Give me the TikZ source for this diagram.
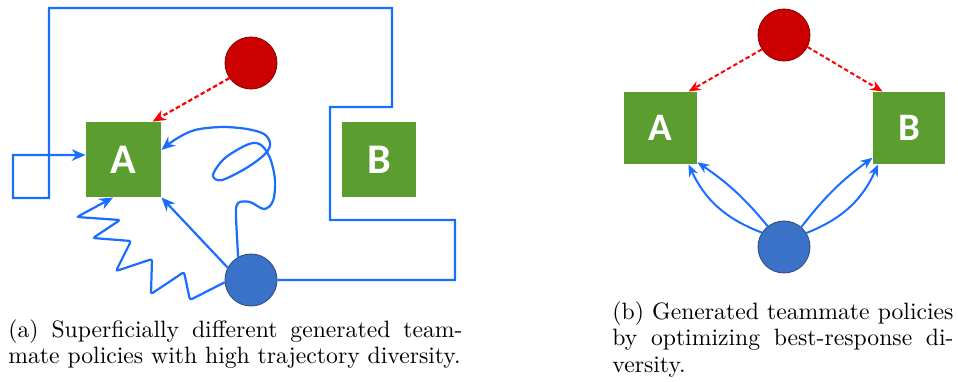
\documentclass[tikz,border=0pt]{standalone}
\usepackage{fontspec}
\newfontfamily\boxfont{Carlito}
\usetikzlibrary{arrows.meta}
\definecolor{gbox}{HTML}{5B9E2F}
\definecolor{bline}{HTML}{1A6EFF}
\definecolor{rline}{HTML}{FF0000}
\definecolor{rfill}{HTML}{CC0000}
\definecolor{rdraw}{HTML}{8B0000}
\definecolor{bfill}{HTML}{3A72C8}
\definecolor{bdraw}{HTML}{2F4F7F}
\tikzset{
  greenbox/.style={fill=gbox, draw=none, text=white, inner sep=0pt, font=\boxfont\bfseries},
  redagent/.style={circle, fill=rfill, draw=rdraw, line width=0.4pt, minimum size=23.4pt, inner sep=0pt},
  blueagent/.style={circle, fill=bfill, draw=bdraw, line width=0.4pt, minimum size=23.4pt, inner sep=0pt},
  bluepath/.style={draw=bline, line width=1pt, -{Stealth[length=6.2pt,width=5.2pt]}},
  bluepathR/.style={draw=bline, line width=0.9pt, -{Stealth[length=5.4pt,width=4.4pt]}},
  redpath/.style={draw=rline, line width=1pt, dash pattern=on 2pt off 1.2pt, -{Stealth[length=6pt,width=5pt]}},
  redpathR/.style={draw=rline, line width=0.9pt, dash pattern=on 2pt off 1.2pt, -{Stealth[length=5.4pt,width=4.4pt]}},
  captext/.style={anchor=north west, inner sep=0pt, align=justify, font=\fontsize{10.65}{12}\selectfont}
}
\begin{document}
\begin{tikzpicture}[x=0.45pt, y=-0.45pt]
\useasboundingbox (0,0) rectangle (958,381);
% ---- left diagram ----
\node[greenbox, minimum width=33.75pt, minimum height=33.75pt, font=\boxfont\bfseries\fontsize{19}{19}\selectfont] (aL) at (123.5,159.5) {A};
\node[greenbox, minimum width=33.3pt, minimum height=33.75pt, font=\boxfont\bfseries\fontsize{19}{19}\selectfont] (bL) at (379,159.5) {B};
\node[redagent] (rcL) at (251,63) {};
\node[blueagent] (bcL) at (251,280) {};
% outline path
\draw[bluepath] (bcL.east) -- (455,280) -- (455,220) -- (330,220) -- (330,107) -- (392,107)
  -- (392,8) -- (49,8) -- (49,198) -- (13,198) -- (13,155) -- ([yshift=2pt]aL.west);
% red dashed
\draw[redpath] (rcL.215) -- ([xshift=-4pt]aL.north east);
% straight
\draw[bluepath] (bcL.152) -- (aL.south east);
% zigzag
\draw[bluepath, rounded corners=1pt] (bcL.185) -- (190,300) -- (184,272) -- (151,294) -- (152,259)
  -- (116,271) -- (131,241) -- (93,238) -- (120,220) -- (77,217) -- ([xshift=-4.7pt]aL.south);
% curly
\draw[bluepath] plot[smooth, tension=0.55] coordinates {(bcL.119) (236,215) (238,203) (250,202) (264,209) (273,201)
  (275,180) (270,158) (261,145) (249,144) (225,158) (213,175) (222,180) (248,167) (266,153) (270,143)
  (264,134) (247,129) (222,127) (195,130) (176,139) ([yshift=4.3pt]aL.east)};
% ---- right diagram ----
\node[greenbox, minimum width=32.8pt, minimum height=32.4pt, font=\boxfont\bfseries\fontsize{17.5}{17.5}\selectfont] (aR) at (660.5,128) {A};
\node[greenbox, minimum width=32.4pt, minimum height=32.4pt, font=\boxfont\bfseries\fontsize{17.5}{17.5}\selectfont] (bR) at (909,128) {B};
\node[redagent] (rcR) at (784,35) {};
\node[blueagent] (bcR) at (784,247) {};
\draw[redpathR] (rcR.213) -- ([xshift=-4pt]aR.north east);
\draw[redpathR] (rcR.333) -- ([xshift=4.5pt]bR.north west);
\draw[bluepathR] (bcR.147) to[bend left=22] ([xshift=-4pt]aR.south east);
\draw[bluepathR] (bcR.128) to[bend right=8] ([yshift=1pt]aR.south east);
\draw[bluepathR] (bcR.49) to[bend left=8] ([yshift=3pt]bR.south west);
\draw[bluepathR] (bcR.32) to[bend right=22] ([xshift=2.5pt]bR.south west);
% ---- captions ----
\node[captext, text width=204.3pt] (capA) at (8,319) {(a) Superficially different generated team-\linebreak mate policies with high trajectory diversity.};
\node[captext, text width=153.5pt] (capB) at (612,301) {(b) Generated teammate policies by optimizing best-response di-\linebreak versity.};
\end{tikzpicture}
\end{document}
